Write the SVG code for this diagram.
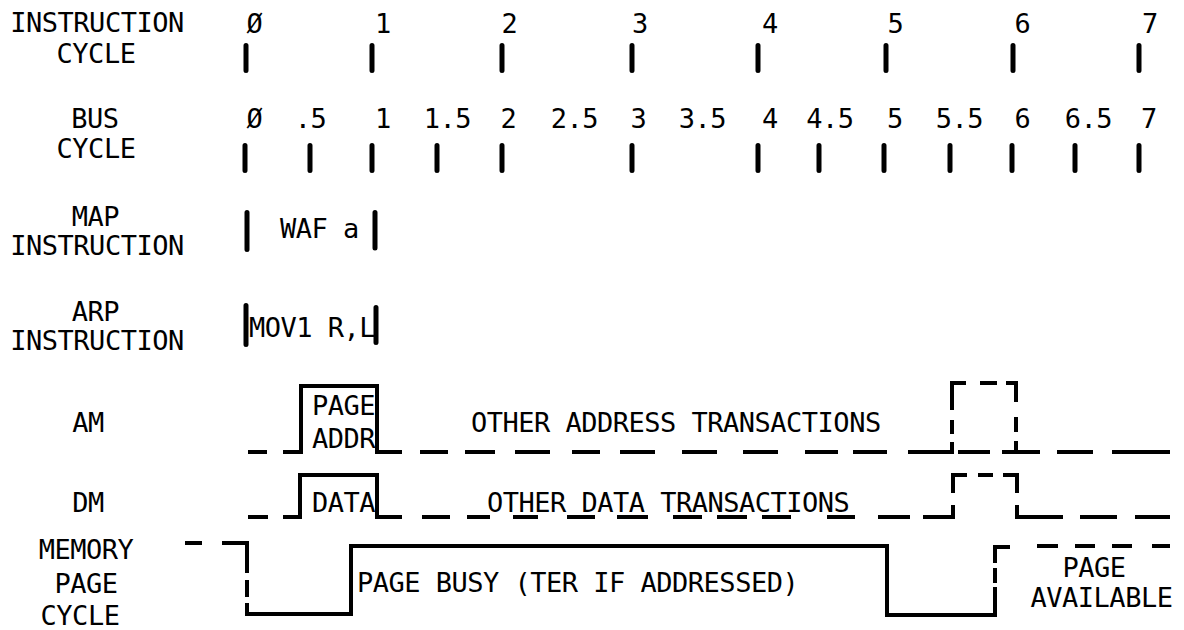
<svg xmlns="http://www.w3.org/2000/svg" width="1184" height="630" viewBox="0 0 1184 630">
<style>
text{font-family:"DejaVu Sans Mono","Liberation Mono",monospace;font-size:27px;letter-spacing:-0.5px;fill:#000}
.m{text-anchor:middle}
.tick{stroke:#000;stroke-width:5;stroke-linecap:round;fill:none}
.wave{stroke:#000;stroke-width:4;fill:none;stroke-linejoin:miter;stroke-linecap:butt}
</style>
<rect width="1184" height="630" fill="#fff"/>
<g id="instruction-cycle">
<text class="m" x="97" y="32">INSTRUCTION</text>
<text class="m" x="96" y="63">CYCLE</text>
<text class="m" x="254.5" y="33">Ø</text>
<text class="m" x="383" y="33">1</text>
<text class="m" x="509.5" y="33">2</text>
<text class="m" x="640" y="33">3</text>
<text class="m" x="770" y="33">4</text>
<text class="m" x="895.5" y="33">5</text>
<text class="m" x="1022.5" y="33">6</text>
<text class="m" x="1150" y="33">7</text>
<path class="tick" d="M246,45.5V70.5M372,45.5V70.5M502,45.5V70.5M632,45.5V70.5M758,45.5V70.5M886,45.5V70.5M1013,45.5V70.5M1139,45.5V70.5"/>
</g>
<g id="bus-cycle">
<text class="m" x="95" y="128">BUS</text>
<text class="m" x="96" y="158">CYCLE</text>
<text class="m" x="254.5" y="128">Ø</text>
<text class="m" x="310.5" y="128">.5</text>
<text class="m" x="383" y="128">1</text>
<text class="m" x="447.5" y="128">1.5</text>
<text class="m" x="508.5" y="128">2</text>
<text class="m" x="574.5" y="128">2.5</text>
<text class="m" x="638.5" y="128">3</text>
<text class="m" x="702.5" y="128">3.5</text>
<text class="m" x="770" y="128">4</text>
<text class="m" x="830" y="128">4.5</text>
<text class="m" x="895" y="128">5</text>
<text class="m" x="959.5" y="128">5.5</text>
<text class="m" x="1022.5" y="128">6</text>
<text class="m" x="1088.5" y="128">6.5</text>
<text class="m" x="1149" y="128">7</text>
<path class="tick" d="M245,145.5V170.5M310,145.5V170.5M372,145.5V170.5M437,145.5V170.5M502,145.5V170.5M632,145.5V170.5M758,145.5V170.5M819,145.5V170.5M884,145.5V170.5M950,145.5V170.5M1012,145.5V170.5M1075,145.5V170.5M1139,145.5V170.5"/>
</g>
<g id="map-instruction">
<text class="m" x="95.5" y="226">MAP</text>
<text class="m" x="97" y="255">INSTRUCTION</text>
<path class="tick" d="M247,212.5V249.5M375,212.5V248"/>
<text x="280" y="238">WAF a</text>
</g>
<g id="arp-instruction">
<text class="m" x="95.5" y="321">ARP</text>
<text class="m" x="97" y="350">INSTRUCTION</text>
<path class="tick" d="M246,305.5V344.5M376,307.5V342.5"/>
<text x="249" y="337">MOV1 R,L</text>
</g>
<g id="am">
<text class="m" x="88" y="432">AM</text>
<path class="wave" d="M248,452H267M283,452H301V386H377V452H402M420,452H448M465,452H495M515,452H550M572,452H600M620,452H655M682,452H717M743,452H778M805,452H838M853,452H887M908,452H952V442M952,434V420M952,410V383H966M980,383H997M1006,383H1016V402M1016,417V432M1016,441V452M958,452H990M1002,452H1040M1057,452H1093M1112,452H1170"/>
<text x="312" y="415">PAGE</text>
<text x="312" y="448">ADDR</text>
<text x="471" y="432">OTHER ADDRESS TRANSACTIONS</text>
</g>
<g id="dm">
<text class="m" x="88" y="512">DM</text>
<path class="wave" d="M248,517H268M283,517H300V475H377V517H402M422,517H450M467,517H490M513,517H538M567,517H595M617,517H648M673,517H702M717,517H747M762,517H791M827,517H855M878,517H910M923,517H953V505M953,493V475H967M978,475H993M1003,475H1017V493M1017,505V517H1063M1080,517H1117M1135,517H1170"/>
<text x="312" y="512">DATA</text>
<text x="487" y="512">OTHER DATA TRANSACTIONS</text>
</g>
<g id="memory-page-cycle">
<text class="m" x="86" y="559">MEMORY</text>
<text class="m" x="86" y="593">PAGE</text>
<text class="m" x="80" y="625">CYCLE</text>
<path class="wave" d="M185,543H202M222,543H247V573M247,580V597M247,603V614H351V546H887V615H995V587M995,583V568M995,563V547H1010M1037,546H1058M1075,546H1095M1112,546H1132M1152,546H1170"/>
<text x="357" y="592">PAGE BUSY (TER IF ADDRESSED)</text>
<text class="m" x="1094" y="577">PAGE</text>
<text class="m" x="1101.5" y="607">AVAILABLE</text>
</g>
</svg>
